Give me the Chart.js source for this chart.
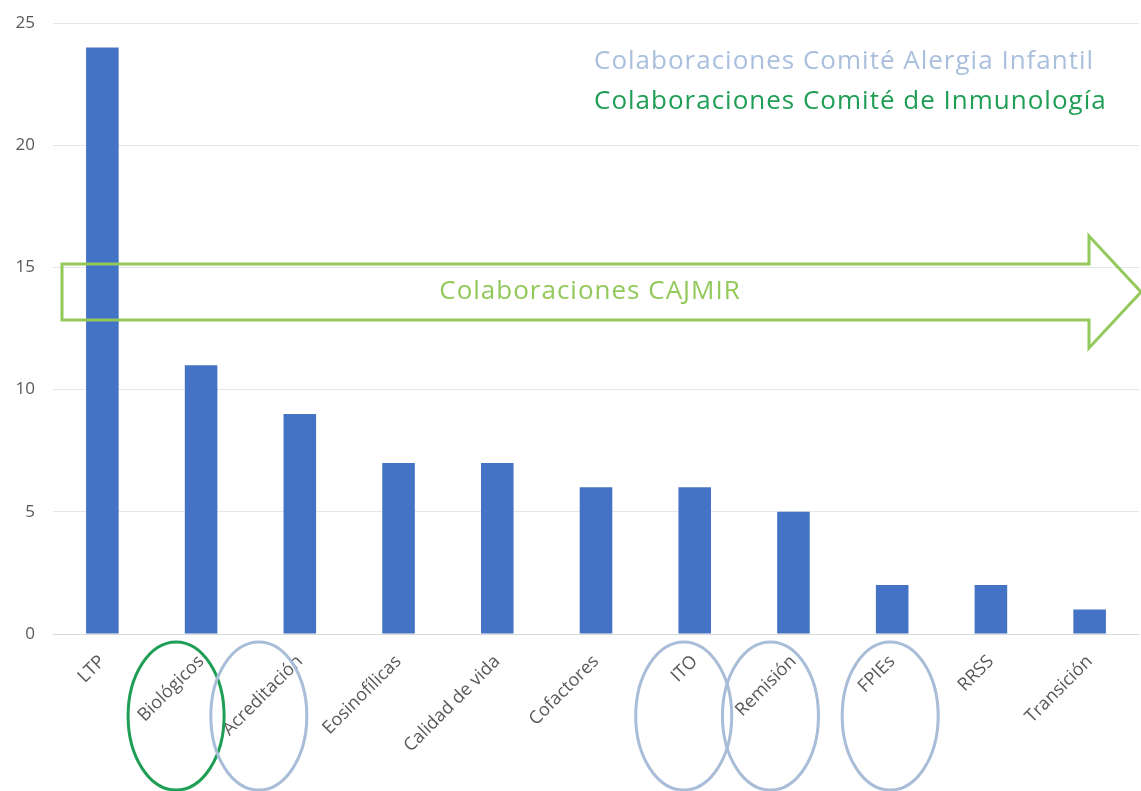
<!DOCTYPE html>
<html>
<head>
<meta charset="utf-8">
<script src="https://cdn.jsdelivr.net/npm/chart.js@4.4.0/dist/chart.umd.min.js"></script>
<style>
  html, body { margin: 0; padding: 0; background: #fff; }
  #wrap { width: 1141px; height: 791px; position: relative; }
</style>
</head>
<body>
<div id="wrap"><canvas id="chart" width="1141" height="791"></canvas></div>
<script>
// Datos del gráfico
const categorias = ['LTP', 'Biológicos', 'Acreditación', 'Eosinofílicas', 'Calidad de vida',
  'Cofactores', 'ITO', 'Remisión', 'FPIEs', 'RRSS', 'Transición'];
const valores = [24, 11, 9, 7, 7, 6, 6, 5, 2, 2, 1];
const yTicks = [0, 5, 10, 15, 20, 25];

const leyendaTextos = ['Colaboraciones Comité Alergia Infantil', 'Colaboraciones Comité de Inmunología'];
const flechaTexto = 'Colaboraciones CAJMIR';

// Elipses sobre etiquetas (índice de categoría + desplazamiento)
const elipses = [
  { idx: 1, dx: -25, color: '#1f9e55' },
  { idx: 2, dx: -41, color: '#a9bdd8' },
  { idx: 6, dx: -11, color: '#a9bdd8' },
  { idx: 7, dx: -23, color: '#a9bdd8' },
  { idx: 8, dx: -2, color: '#a9bdd8' }
];

const FONT = '"Open Sans", "DejaVu Sans", sans-serif';

// Plugin para anotaciones (flecha, elipses, textos)
const anotaciones = {
  id: 'anotaciones',
  afterDraw(chart) {
    const ctx = chart.ctx;
    const x = chart.scales.x;
    ctx.save();

    // Flecha CAJMIR
    ctx.strokeStyle = '#92c95a';
    ctx.lineWidth = 3;
    ctx.lineJoin = 'miter';
    ctx.beginPath();
    ctx.moveTo(62, 264);
    ctx.lineTo(1089, 264);
    ctx.lineTo(1089, 236);
    ctx.lineTo(1141, 292);
    ctx.lineTo(1089, 348);
    ctx.lineTo(1089, 320);
    ctx.lineTo(62, 320);
    ctx.closePath();
    ctx.stroke();

    ctx.fillStyle = '#92c95a';
    ctx.font = '26px ' + FONT;
    ctx.letterSpacing = '1px';
    ctx.textAlign = 'center';
    ctx.textBaseline = 'middle';
    ctx.fillText(flechaTexto, 590, 292);

    // Leyenda de texto
    ctx.textAlign = 'left';
    ctx.font = '26px ' + FONT;
    ctx.fillStyle = '#a9bfdd';
    ctx.fillText(leyendaTextos[0], 594, 62);
    ctx.fillStyle = '#1f9e55';
    ctx.fillText(leyendaTextos[1], 594, 102);
    ctx.letterSpacing = '0px';

    // Elipses
    ctx.lineWidth = 3;
    elipses.forEach(e => {
      const cx = x.getPixelForValue(e.idx) + e.dx;
      ctx.strokeStyle = e.color;
      ctx.beginPath();
      ctx.ellipse(cx, 716, 48, 74, 0, 0, Math.PI * 2);
      ctx.stroke();
    });

    ctx.restore();
  }
};

new Chart(document.getElementById('chart'), {
  type: 'bar',
  data: {
    labels: categorias,
    datasets: [{
      data: valores,
      backgroundColor: '#4472c4',
      barPercentage: 0.33,
      categoryPercentage: 1
    }]
  },
  options: {
    responsive: false,
    animation: false,
    layout: { padding: { top: 0, right: 2, left: 0, bottom: 0 } },
    plugins: {
      legend: { display: false },
      tooltip: { enabled: false }
    },
    scales: {
      x: {
        grid: { display: false, drawTicks: false },
        border: { color: '#d9d9d9' },
        ticks: {
          color: '#595959',
          font: { family: FONT, size: 18 },
          minRotation: 45,
          maxRotation: 45,
          padding: 17,
          labelOffset: 0
        },
        afterFit: s => { s.height = 157; s.paddingTop = 0; }
      },
      y: {
        min: 0,
        max: 25,
        afterBuildTicks: s => { s.ticks = yTicks.map(v => ({ value: v })); },
        grid: { color: '#e6e6e6', drawTicks: false },
        border: { display: false },
        ticks: {
          color: '#595959',
          font: { family: FONT, size: 17 },
          padding: 18
        },
        afterFit: s => { s.width = 53; s.paddingTop = 23; s.paddingBottom = 0; }
      }
    }
  },
  plugins: [anotaciones]
});
</script>
</body>
</html>
